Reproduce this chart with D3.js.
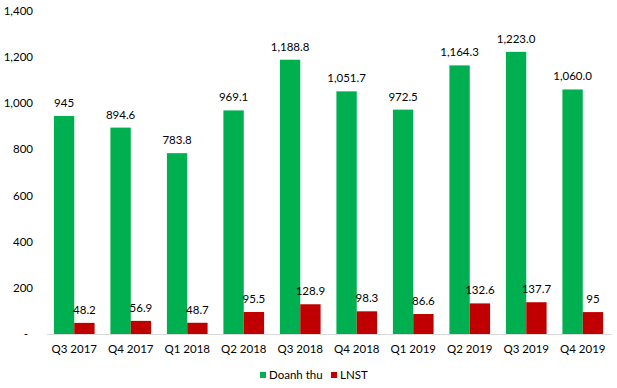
<!DOCTYPE html>
<html>
<head>
<meta charset="utf-8">
<script src="https://cdn.jsdelivr.net/npm/d3@7"></script>
<style>
  body { margin: 0; background: #fff; }
  svg text { font-family: Lato, "Liberation Sans", sans-serif; font-size: 11.5px; fill: #000; }
</style>
</head>
<body>
<svg id="chart" width="617" height="388"></svg>
<script>
const quarters = ['Q3 2017', 'Q4 2017', 'Q1 2018', 'Q2 2018', 'Q3 2018', 'Q4 2018', 'Q1 2019', 'Q2 2019', 'Q3 2019', 'Q4 2019'];
const revenue = [945, 894.6, 783.8, 969.1, 1188.8, 1051.7, 972.5, 1164.3, 1223.0, 1060.0];
const revenueLabels = ['945', '894.6', '783.8', '969.1', '1,188.8', '1,051.7', '972.5', '1,164.3', '1,223.0', '1,060.0'];
const profit = [48.2, 56.9, 48.7, 95.5, 128.9, 98.3, 86.6, 132.6, 137.7, 95];
const profitLabels = ['48.2', '56.9', '48.7', '95.5', '128.9', '98.3', '86.6', '132.6', '137.7', '95'];
const yTicks = [0, 200, 400, 600, 800, 1000, 1200, 1400];
const seriesNames = ['Doanh thu', 'LNST'];

const svg = d3.select('svg#chart');
const plotLeft = 46, plotRight = 611, plotTop = 11, plotBottom = 334;
const green = '#00B050', red = '#C00000';

const x = d3.scaleBand().domain(quarters).range([plotLeft, plotRight]).paddingInner(0.28).paddingOuter(0.14);
const sub = d3.scaleBand().domain([0, 1]).range([0, x.bandwidth()]);
const y = d3.scaleLinear().domain([0, 1400]).range([plotBottom, plotTop]);

// y tick labels
svg.selectAll('.ytick')
    .data(yTicks)
    .enter().append('text')
    .attr('x', d => d === 0 ? 28 : 33)
    .attr('y', d => y(d))
    .attr('dy', '0.35em')
    .attr('text-anchor', 'end')
    .text(d => d === 0 ? '-' : d3.format(',')(d));

// bars
const groups = quarters.map((q, i) => ({ q, i }));
svg.selectAll('.rev')
    .data(groups)
    .enter().append('rect')
    .attr('x', d => x(d.q) + sub(0))
    .attr('y', d => y(revenue[d.i]))
    .attr('width', sub.bandwidth())
    .attr('height', d => plotBottom - y(revenue[d.i]))
    .attr('fill', green);

svg.selectAll('.pro')
    .data(groups)
    .enter().append('rect')
    .attr('x', d => x(d.q) + sub(1))
    .attr('y', d => y(profit[d.i]))
    .attr('width', sub.bandwidth())
    .attr('height', d => plotBottom - y(profit[d.i]))
    .attr('fill', red);

// axis line
svg.append('line')
    .attr('x1', 47).attr('x2', 612)
    .attr('y1', plotBottom + 0.5).attr('y2', plotBottom + 0.5)
    .attr('stroke', '#d9d9d9');

// value labels
svg.selectAll('.revLabel')
    .data(groups)
    .enter().append('text')
    .attr('x', d => x(d.q) + sub(0) + sub.bandwidth() / 2)
    .attr('y', d => y(revenue[d.i]) - 9)
    .attr('text-anchor', 'middle')
    .text(d => revenueLabels[d.i]);

svg.selectAll('.proLabel')
    .data(groups)
    .enter().append('text')
    .attr('x', d => x(d.q) + sub(1) + sub.bandwidth() / 2)
    .attr('y', d => y(profit[d.i]) - 9)
    .attr('text-anchor', 'middle')
    .text(d => profitLabels[d.i]);

// x labels
svg.selectAll('.xlabel')
    .data(quarters)
    .enter().append('text')
    .attr('x', d => x(d) + x.bandwidth() / 2)
    .attr('y', 349)
    .attr('dy', '0.35em')
    .attr('text-anchor', 'middle')
    .text(d => d);

// legend
const legend = [{ name: seriesNames[0], color: green, x: 260 }, { name: seriesNames[1], color: red, x: 331 }];
legend.forEach(l => {
    svg.append('rect')
        .attr('x', l.x).attr('y', 372)
        .attr('width', 6).attr('height', 6)
        .attr('fill', l.color);
    svg.append('text')
        .attr('x', l.x + 9).attr('y', 375)
        .attr('dy', '0.35em')
        .text(l.name);
});
</script>
</body>
</html>
